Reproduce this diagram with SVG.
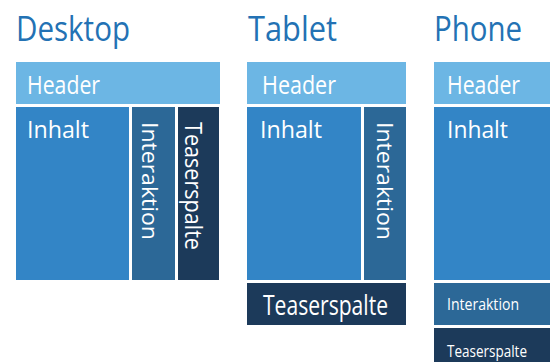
<svg xmlns="http://www.w3.org/2000/svg" width="550" height="362" viewBox="0 0 550 362">
  <style>
    text { font-family: "Open Sans", "Noto Sans", "DejaVu Sans", sans-serif; }
    .title { fill: #2372b4; font-size: 35px; }
    .lbl { fill: #ffffff; }
    .header { fill: #6cb6e4; }
    .content { fill: #3385c6; }
    .interact { fill: #2c6897; }
    .teaser { fill: #1c3a5a; }
  </style>

  <!-- Desktop layout -->
  <g id="desktop">
    <text class="title" x="16" y="41" textLength="114" lengthAdjust="spacingAndGlyphs">Desktop</text>
    <g id="desktop-header">
      <rect class="header" x="16" y="62" width="204" height="42"/>
      <text class="lbl" x="27" y="94" font-size="25" textLength="73" lengthAdjust="spacingAndGlyphs">Header</text>
    </g>
    <g id="desktop-inhalt">
      <rect class="content" x="16" y="107" width="113" height="173"/>
      <text class="lbl" x="27" y="138" font-size="23" textLength="62" lengthAdjust="spacingAndGlyphs">Inhalt</text>
    </g>
    <g id="desktop-interaktion">
      <rect class="interact" x="132" y="107" width="43" height="173"/>
      <text class="lbl" transform="translate(142 122) rotate(90)" font-size="22" textLength="118" lengthAdjust="spacingAndGlyphs">Interaktion</text>
    </g>
    <g id="desktop-teaserspalte">
      <rect class="teaser" x="178" y="107" width="41" height="173"/>
      <text class="lbl" transform="translate(185 122) rotate(90)" font-size="23" textLength="128" lengthAdjust="spacingAndGlyphs">Teaserspalte</text>
    </g>
  </g>

  <!-- Tablet layout -->
  <g id="tablet">
    <text class="title" x="248" y="41" textLength="89" lengthAdjust="spacingAndGlyphs">Tablet</text>
    <g id="tablet-header">
      <rect class="header" x="247" y="62" width="159" height="42"/>
      <text class="lbl" x="262" y="94" font-size="25" textLength="74" lengthAdjust="spacingAndGlyphs">Header</text>
    </g>
    <g id="tablet-inhalt">
      <rect class="content" x="247" y="107" width="114" height="173"/>
      <text class="lbl" x="260" y="138" font-size="23" textLength="62" lengthAdjust="spacingAndGlyphs">Inhalt</text>
    </g>
    <g id="tablet-interaktion">
      <rect class="interact" x="364" y="107" width="42" height="173"/>
      <text class="lbl" transform="translate(377 122) rotate(90)" font-size="22" textLength="118" lengthAdjust="spacingAndGlyphs">Interaktion</text>
    </g>
    <g id="tablet-teaserspalte">
      <rect class="teaser" x="247" y="283" width="159" height="42"/>
      <text class="lbl" x="263" y="315" font-size="28" textLength="125" lengthAdjust="spacingAndGlyphs">Teaserspalte</text>
    </g>
  </g>

  <!-- Phone layout -->
  <g id="phone">
    <text class="title" x="434" y="41" textLength="88" lengthAdjust="spacingAndGlyphs">Phone</text>
    <g id="phone-header">
      <rect class="header" x="434" y="62" width="130" height="42"/>
      <text class="lbl" x="447" y="94" font-size="25" textLength="73" lengthAdjust="spacingAndGlyphs">Header</text>
    </g>
    <g id="phone-inhalt">
      <rect class="content" x="434" y="107" width="130" height="173"/>
      <text class="lbl" x="447" y="138" font-size="23" textLength="61" lengthAdjust="spacingAndGlyphs">Inhalt</text>
    </g>
    <g id="phone-interaktion">
      <rect class="interact" x="434" y="283" width="130" height="42"/>
      <text class="lbl" x="447" y="310" font-size="16" textLength="72" lengthAdjust="spacingAndGlyphs">Interaktion</text>
    </g>
    <g id="phone-teaserspalte">
      <rect class="teaser" x="434" y="328" width="130" height="40"/>
      <text class="lbl" x="447" y="357" font-size="16" textLength="80" lengthAdjust="spacingAndGlyphs">Teaserspalte</text>
    </g>
  </g>

  <!-- no connectors in this layout overview -->
  <g id="connectors"/>
</svg>
